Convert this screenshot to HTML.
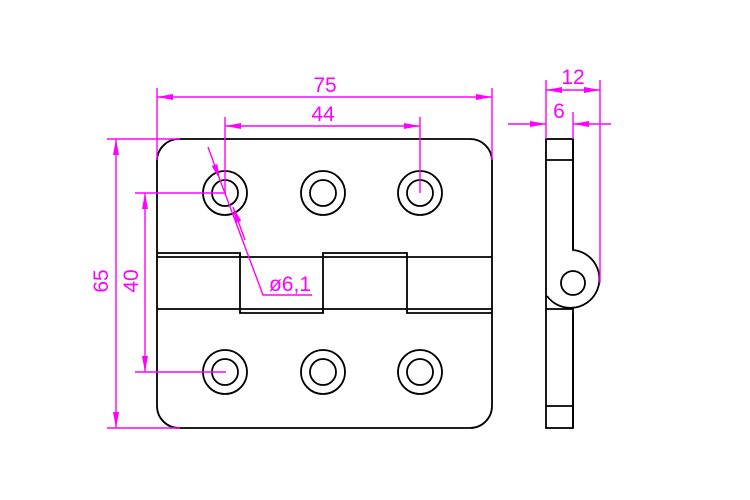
<!DOCTYPE html>
<html><head><style>body{margin:0;background:#fff}svg{display:block}</style></head><body>
<svg width="750" height="500" viewBox="0 0 750 500" xmlns="http://www.w3.org/2000/svg">
<defs>
<marker id="a" viewBox="0 0 10 10" refX="10" refY="5" markerWidth="16" markerHeight="6" preserveAspectRatio="none" markerUnits="userSpaceOnUse" orient="auto-start-reverse"><path d="M0,0 L10,5 L0,10 z" fill="#f0f"/></marker>
</defs>
<g fill="none" stroke="#000" stroke-width="1.8">
<rect x="157" y="139" width="335" height="289" rx="22"/>
<g id="h"><circle cx="225" cy="193" r="22"/><circle cx="225" cy="193" r="13"/></g>
<use href="#h" x="98"/><use href="#h" x="195"/>
<use href="#h" y="179"/><use href="#h" x="98" y="179"/><use href="#h" x="195" y="179"/>
<path d="M157 253H240V313H323V253H407V313H492"/>
<path d="M157 257H492M157 309H492"/>
<path d="M240 257V253M323 309V313"/>
<rect x="546" y="139" width="27" height="289" fill="#fff"/>
<path d="M546 160H573M546 406H573M546 309H573"/>
<path d="M573 250 A29 29 0 1 1 547 296" fill="#fff"/>
<path d="M573 139V250M573 313V428"/>
<circle cx="573" cy="283" r="12"/>
</g>
<g stroke="#f0f" stroke-width="1.4" fill="none">
<path d="M157 88V160M492 88V160M225 117V193M420 117V193"/>
<line x1="157" y1="97" x2="492" y2="97" marker-start="url(#a)" marker-end="url(#a)"/>
<line x1="225" y1="126" x2="420" y2="126" marker-start="url(#a)" marker-end="url(#a)"/>
<path d="M107 139H180M107 428H180M135 193H226M135 372H226"/>
<line x1="116" y1="139" x2="116" y2="428" marker-start="url(#a)" marker-end="url(#a)"/>
<line x1="145" y1="193" x2="145" y2="372" marker-start="url(#a)" marker-end="url(#a)"/>
<line x1="208" y1="147" x2="220" y2="180" marker-end="url(#a)"/>
<path d="M220 180L263 295H312"/>
<line x1="245" y1="240" x2="233" y2="207" marker-end="url(#a)"/>
<path d="M546 80V139M600 80V283M573 112V139"/>
<line x1="546" y1="90" x2="600" y2="90" marker-start="url(#a)" marker-end="url(#a)"/>
<line x1="508" y1="124" x2="546" y2="124" marker-end="url(#a)"/>
<line x1="611" y1="124" x2="573" y2="124" marker-end="url(#a)"/>
</g>
<g fill="#f0f" font-family="Liberation Sans, sans-serif" font-size="21" text-anchor="middle">
<text x="325" y="92">75</text>
<text x="323" y="121">44</text>
<text x="290" y="291">ø6,1</text>
<text x="573" y="84">12</text>
<text x="559" y="118">6</text>
<text transform="translate(108,281) rotate(-90)">65</text>
<text transform="translate(138,281) rotate(-90)">40</text>
</g>
</svg>
</body></html>
